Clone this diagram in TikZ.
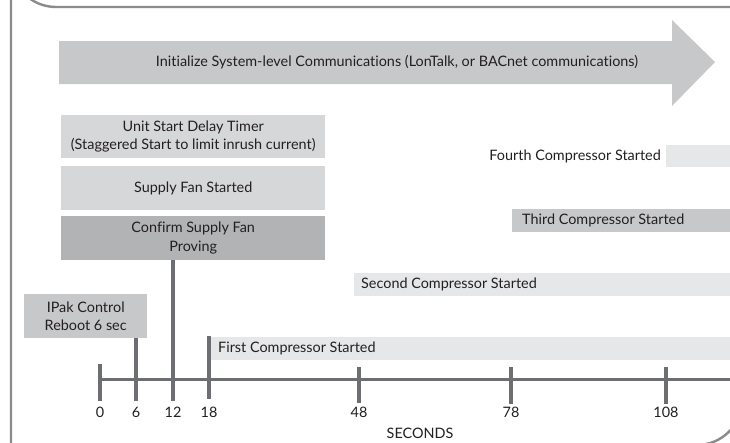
\documentclass[tikz,border=0pt]{standalone}
\usepackage{fontspec}
\setmainfont{Lato}[Ligatures=NoCommon]
\definecolor{framec}{HTML}{8A8B8D}
\definecolor{arrowc}{HTML}{C7C8CA}
\definecolor{lightc}{HTML}{D6D7D9}
\definecolor{darkc}{HTML}{B2B3B5}
\definecolor{palec}{HTML}{E6E7E8}
\definecolor{tickc}{HTML}{6D6E71}
\definecolor{txtc}{HTML}{231F20}
\tikzset{
  box/.style={anchor=north west, inner sep=0pt, align=center, text=txtc, font=\fontsize{14.4}{18.5}\selectfont},
  bar/.style={anchor=north west, inner sep=0pt, minimum height=23pt},
  lbl/.style={inner sep=0pt, text=txtc, font=\fontsize{14.4}{17}\selectfont},
  tickline/.style={draw=tickc, line width=3.6pt},
  axisline/.style={draw=tickc, line width=3pt},
}
\begin{document}
\begin{tikzpicture}[x=1pt,y=-1pt]
\useasboundingbox (0,0) rectangle (730,442);
\clip (0,0) rectangle (730,442);
\fill[white] (0,0) rectangle (730,442);
% frame
\draw[framec, line width=2.4pt] (760,7) -- (56,7) arc[start angle=90, end angle=180, radius=45] -- (11,470);
\draw[framec, line width=2.4pt] (742,300) -- (742,400) arc[start angle=0, end angle=90, radius=45] -- (600,445);
% big arrow
\fill[arrowc] (59,41) -- (672,41) -- (672,20) -- (715,62) -- (672,106) -- (672,84) -- (59,84) -- cycle;
\node[lbl] (init) at (397,62) {Initialize System-level Communications (LonTalk, or BACnet communications)};
% left stack
\node[box, fill=lightc, minimum width=264pt, minimum height=43pt] (delay) at (61,115) {Unit Start Delay Timer\\(Staggered Start to limit inrush current)};
\node[box, fill=lightc, minimum width=264pt, minimum height=44pt] (fan) at (61,166) {Supply Fan Started};
\node[box, fill=darkc, minimum width=264pt, minimum height=44pt] (confirm) at (61,216) {Confirm Supply Fan\\Proving};
\node[box, fill=arrowc, minimum width=123pt, minimum height=44pt] (ipak) at (24,294) {IPak Control\\Reboot 6 sec};
% compressor bars
\node[bar, fill=palec, minimum width=530pt] (c1) at (211,337) {};
\node[lbl, anchor=west] (c1t) at (218,348.5) {First Compressor Started};
\node[bar, fill=palec, minimum width=380pt] (c2) at (354,273) {};
\node[lbl, anchor=west] (c2t) at (361,284.5) {Second Compressor Started};
\node[bar, fill=arrowc, minimum width=220pt] (c3) at (512,209) {};
\node[lbl, anchor=west] (c3t) at (522,220.5) {Third Compressor Started};
\node[bar, fill=palec, minimum width=70pt, minimum height=22pt] (c4) at (666,145) {};
\node[lbl, anchor=east] (c4t) at (661,156) {Fourth Compressor Started};
% axis
\coordinate (a0) at (100,379);
\coordinate (aend) at (735,379);
\draw[axisline] (a0) -- (aend);
\coordinate (t0a) at (100,364); \coordinate (t0b) at (100,401);
\coordinate (t6b) at (136,401);
\coordinate (t12b) at (173,401);
\coordinate (t18a) at (209,336); \coordinate (t18b) at (209,399);
\coordinate (t48a) at (359,367); \coordinate (t48b) at (359,403);
\coordinate (t78a) at (511,367); \coordinate (t78b) at (511,404);
\coordinate (t108a) at (666,367); \coordinate (t108b) at (666,404);
\draw[tickline] (t0a) -- (t0b);
\draw[tickline] (ipak.south -| t6b) -- (t6b);
\draw[tickline] (confirm.south -| t12b) -- (t12b);
\draw[tickline] (t18a) -- (t18b);
\draw[tickline] (t48a) -- (t48b);
\draw[tickline] (t78a) -- (t78b);
\draw[tickline] (t108a) -- (t108b);
% labels
\node[lbl] (l0) at (100,412) {0};
\node[lbl] (l6) at (136,412) {6};
\node[lbl] (l12) at (173,412) {12};
\node[lbl] (l18) at (209,412) {18};
\node[lbl] (l48) at (359,412) {48};
\node[lbl] (l78) at (511,412) {78};
\node[lbl] (l108) at (666,412) {108};
\node[lbl] (sec) at (420,433) {SECONDS};
\end{tikzpicture}
\end{document}
